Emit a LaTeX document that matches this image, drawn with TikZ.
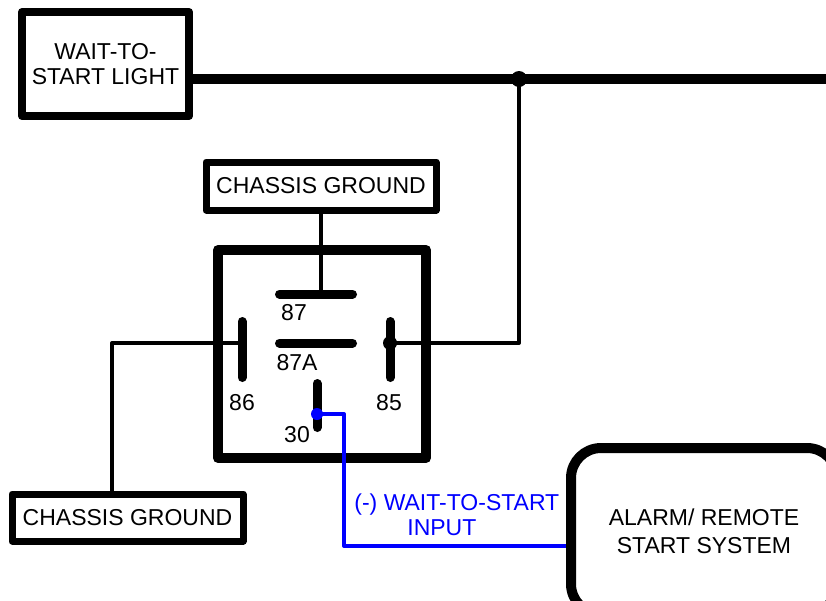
\documentclass[tikz,border=0pt]{standalone}
\usepackage{fontspec}
\setmainfont{Liberation Sans}
\begin{document}
\begin{tikzpicture}[x=1pt,y=-1pt,line join=round, line cap=round,>=stealth,thick]
	\tikzset{every node/.style={font=\fontsize{23}{25.5}\selectfont, inner sep=0pt},
		box/.style={draw, line width=8pt, align=center, line cap=butt},
		relaybox/.style={draw, line width=10pt, line cap=butt},
		pinbar/.style={line width=9pt, line cap=round},
		wire/.style={line width=4pt, line cap=butt},
		bus/.style={line width=10pt, line cap=butt},
		sigwire/.style={blue, line width=4pt, line cap=butt}}
	\useasboundingbox (0,0) rectangle (826,600);
	% boxes
	\node[box, minimum width=167pt, minimum height=104pt] (light) at (105.5,64) {WAIT-TO-\\START LIGHT};
	\node[box, line width=7pt, minimum width=230pt, minimum height=48pt] (gndtop) at (321,186) {CHASSIS GROUND};
	\node[box, line width=7pt, minimum width=231pt, minimum height=47pt] (gndbot) at (127.5,517.5) {CHASSIS GROUND};
	\node[box, line width=10pt, rounded corners=30pt, minimum width=266pt, minimum height=166pt, font=\fontsize{23}{28}\selectfont] (alarm) at (704,531) {ALARM/ REMOTE\\START SYSTEM};
	\node[relaybox, minimum width=208pt, minimum height=208pt] (relay) at (322,354) {};
	% pins
	\coordinate (p87) at (323,294);
	\coordinate (p86) at (242,343);
	\coordinate (p85) at (390,343);
	\coordinate (p30) at (317,414);
	\draw[pinbar] (279.5,294) -- (352.5,294);
	\draw[pinbar] (279.5,343) -- (352.5,343);
	\foreach \px in {242,390}
	\draw[pinbar] (\px,321.5) -- (\px,377.5);
	\draw[pinbar] (317,383.5) -- (317,427.5);
	\node (l87) at (294,313) {87};
	\node (l87a) at (297,363) {87A};
	\node (l86) at (242,403) {86};
	\node (l85) at (389,403) {85};
	\node (l30) at (297,435) {30};
	% wires
	\coordinate (jn) at (519,79);
	\coordinate (busend) at (826,79);
	\coordinate (bend) at (344,546);
	\draw[bus] (light.east |- jn) -- (busend);
	\draw[wire] (gndtop.south) -- (gndtop.south |- p87);
	\draw[wire] (jn) |- (p85);
	\draw[wire] (p86) -| ([xshift=-15.5pt]gndbot.north);
	\draw[sigwire] (p30) -| (bend) -- (alarm.west |- bend);
	\fill (jn) circle (8pt);
	\fill (p85) circle (7pt);
	\fill[blue] (p30) circle (6pt);
	\node[blue, align=left, anchor=west] (siglabel) at (354,515) {(-) WAIT-TO-START\\\hspace*{53pt}INPUT};
\end{tikzpicture}
\end{document}
